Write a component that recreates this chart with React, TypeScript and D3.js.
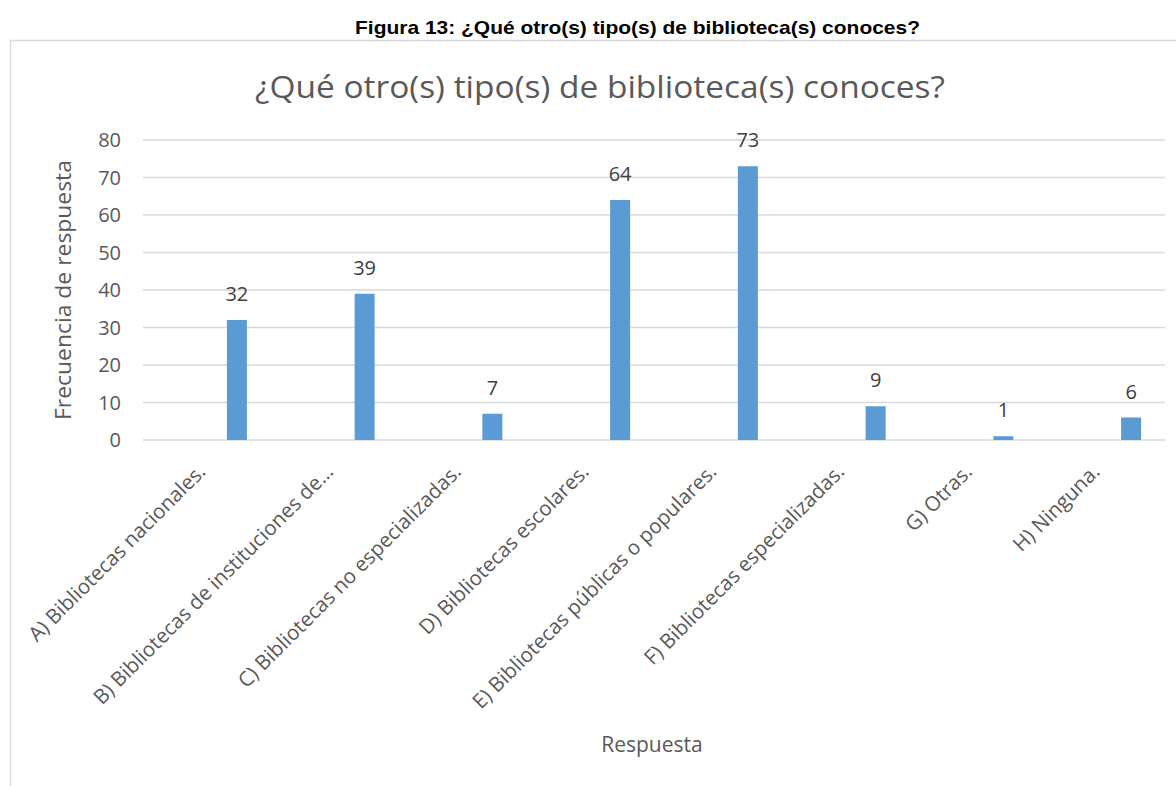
import React from "react";
import * as d3 from "d3";

const categories = [
  "A) Bibliotecas nacionales.",
  "B) Bibliotecas de instituciones de…",
  "C) Bibliotecas no especializadas.",
  "D) Bibliotecas escolares.",
  "E) Bibliotecas públicas o populares.",
  "F) Bibliotecas especializadas.",
  "G) Otras.",
  "H) Ninguna.",
];
const values = [32, 39, 7, 64, 73, 9, 1, 6];
const yTicks = [0, 10, 20, 30, 40, 50, 60, 70, 80];

const W = 1176;
const H = 786;
const left = 143;
const right = 1165;
const top = 140;
const bottom = 440;

export default function App() {
  const x = d3.scaleBand<string>().domain(categories).range([left, right]).padding(0);
  const y = d3.scaleLinear().domain([0, 80]).range([bottom, top]);
  const barW = 20;
  const font = "'Open Sans', sans-serif";

  return (
    <svg
      width={W}
      height={H}
      style={{ position: "absolute", left: 0, top: 0, background: "#fff" }}
    >
      <text
        x={637.5}
        y={34}
        textAnchor="middle"
        fontFamily="'Liberation Sans', Arial, sans-serif"
        fontWeight="bold"
        fontSize={19}
        textLength={565}
        lengthAdjust="spacingAndGlyphs"
        fill="#000"
      >
        Figura 13: ¿Qué otro(s) tipo(s) de biblioteca(s) conoces?
      </text>
      <rect x={10.5} y={40.5} width={W + 10} height={H} fill="none" stroke="#d9d9d9" strokeWidth={1.5} />
      <text
        x={600}
        y={98}
        textAnchor="middle"
        fontFamily={font}
        fontSize={31}
        textLength={690}
        lengthAdjust="spacingAndGlyphs"
        fill="#595959"
      >
        ¿Qué otro(s) tipo(s) de biblioteca(s) conoces?
      </text>
      {yTicks.map((t) => (
        <g key={t}>
          <line x1={left} x2={right} y1={y(t)} y2={y(t)} stroke="#d9d9d9" strokeWidth={1.3} />
          <text x={121} y={y(t)} dy="0.36em" textAnchor="end" fontFamily={font} fontSize={20} fill="#595959">
            {t}
          </text>
        </g>
      ))}
      {categories.map((c, i) => {
        const cx = (x(c) as number) + x.bandwidth() / 2;
        const bx = cx + 20;
        return (
          <g key={c}>
            <rect x={bx} y={y(values[i])} width={barW} height={bottom - y(values[i])} fill="#5b9bd5" />
            <text x={bx + barW / 2} y={y(values[i]) - 19} textAnchor="middle" fontFamily={font} fontSize={20} fill="#404040">
              {values[i]}
            </text>
            <text
              transform={`translate(${cx},${473}) rotate(-45)`}
              textAnchor="end"
              fontFamily={font}
              fontSize={20.5}
              fill="#595959"
            >
              {c}
            </text>
          </g>
        );
      })}
      <text
        transform={`translate(${71},${290}) rotate(-90)`}
        textAnchor="middle"
        fontFamily={font}
        fontSize={21}
        textLength={260}
        lengthAdjust="spacingAndGlyphs"
        fill="#595959"
      >
        Frecuencia de respuesta
      </text>
      <text x={652} y={752} textAnchor="middle" fontFamily={font} fontSize={21} fill="#595959">
        Respuesta
      </text>
    </svg>
  );
}
